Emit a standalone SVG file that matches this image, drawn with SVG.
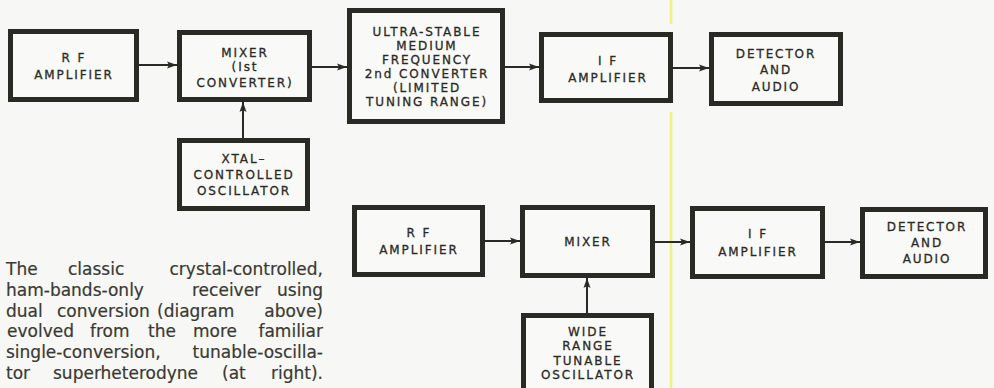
<svg xmlns="http://www.w3.org/2000/svg" width="994" height="388" viewBox="0 0 994 388">
<style>
.bg{fill:#f7f7f5}
.box{fill:#f9f9f7;stroke:#2a2a24;stroke-width:5}
.lbl{font-family:"DejaVu Sans",sans-serif;font-size:12px;letter-spacing:1.9px;fill:#2b2b26;stroke:#2b2b26;stroke-width:0.3;text-anchor:middle}
.cap{font-family:"DejaVu Sans",sans-serif;font-size:17px;fill:#3a3a34;stroke:#3a3a34;stroke-width:0.2}
.end{text-anchor:end}
.wire{stroke:#2a2a24;stroke-width:2;fill:none;marker-end:url(#ah)}
.fold{stroke:#eef27e;stroke-width:2.5;fill:none}
</style>
<defs>
<marker id="ah" markerUnits="userSpaceOnUse" markerWidth="11" markerHeight="8" refX="10" refY="4" orient="auto">
<path d="M0,0.5 L10,4 L0,7.5 L2,4 z" fill="#2a2a24"/>
</marker>
</defs>
<rect class="bg" x="0" y="0" width="994" height="388"/>
<path class="fold" d="M671,0 V24 M671,112 V388"/>

<g id="connectors">
<line class="wire" x1="139" y1="65" x2="177" y2="65"/>
<line class="wire" x1="312" y1="67" x2="347" y2="67"/>
<line class="wire" x1="505" y1="67" x2="539" y2="67"/>
<line class="wire" x1="673" y1="68" x2="709" y2="68"/>
<line class="wire" x1="243" y1="138" x2="243" y2="102"/>
<line class="wire" x1="485" y1="241" x2="520" y2="241"/>
<line class="wire" x1="655" y1="242" x2="690" y2="242"/>
<line class="wire" x1="825" y1="242" x2="860" y2="242"/>
<line class="wire" x1="587" y1="313" x2="587" y2="278"/>
</g>

<g id="rf1">
<rect class="box" x="10.5" y="31.5" width="126" height="68"/>
<text class="lbl" x="74" y="61.5">R F</text>
<text class="lbl" x="74" y="78.5">AMPLIFIER</text>
</g>
<g id="mixer1">
<rect class="box" x="179.5" y="32.5" width="130" height="67"/>
<text class="lbl" x="245" y="56.5">MIXER</text>
<text class="lbl" x="245" y="70.5">(Ist</text>
<text class="lbl" x="245" y="86.5">CONVERTER)</text>
</g>
<g id="conv2">
<rect class="box" x="349.5" y="10.5" width="153" height="111"/>
<text class="lbl" x="427" y="36">ULTRA-STABLE</text>
<text class="lbl" x="427" y="50">MEDIUM</text>
<text class="lbl" x="427" y="64">FREQUENCY</text>
<text class="lbl" x="427" y="78">2nd CONVERTER</text>
<text class="lbl" x="427" y="92">(LIMITED</text>
<text class="lbl" x="427" y="106">TUNING RANGE)</text>
</g>
<g id="if1">
<rect class="box" x="541.5" y="34.5" width="129" height="66"/>
<text class="lbl" x="608" y="64.5">I F</text>
<text class="lbl" x="608" y="81.5">AMPLIFIER</text>
</g>
<g id="det1">
<rect class="box" x="711.5" y="34.5" width="129" height="69"/>
<text class="lbl" x="776" y="57.5">DETECTOR</text>
<text class="lbl" x="776" y="73.5">AND</text>
<text class="lbl" x="776" y="90.5">AUDIO</text>
</g>
<g id="xtal">
<rect class="box" x="179.5" y="140.5" width="128" height="68"/>
<text class="lbl" x="244" y="162.5">XTAL–</text>
<text class="lbl" x="244" y="178.5">CONTROLLED</text>
<text class="lbl" x="244" y="194.5">OSCILLATOR</text>
</g>

<g id="rf2">
<rect class="box" x="354.5" y="207.5" width="128" height="67"/>
<text class="lbl" x="419" y="236.5">R F</text>
<text class="lbl" x="419" y="253.5">AMPLIFIER</text>
</g>
<g id="mixer2">
<rect class="box" x="522.5" y="207.5" width="130" height="68"/>
<text class="lbl" x="588" y="245.5">MIXER</text>
</g>
<g id="if2">
<rect class="box" x="692.5" y="208.5" width="130" height="68"/>
<text class="lbl" x="758" y="237.5">I F</text>
<text class="lbl" x="758" y="255.5">AMPLIFIER</text>
</g>
<g id="det2">
<rect class="box" x="862.5" y="209.5" width="123" height="67"/>
<text class="lbl" x="927" y="230.5">DETECTOR</text>
<text class="lbl" x="927" y="246.5">AND</text>
<text class="lbl" x="927" y="262.5">AUDIO</text>
</g>
<g id="osc">
<rect class="box" x="523.5" y="315.5" width="128" height="80"/>
<text class="lbl" x="588" y="335.5">WIDE</text>
<text class="lbl" x="588" y="350">RANGE</text>
<text class="lbl" x="588" y="364.5">TUNABLE</text>
<text class="lbl" x="588" y="379">OSCILLATOR</text>
</g>

<g id="caption" class="cap">
<text y="275"><tspan x="6">The</tspan><tspan x="68">classic</tspan><tspan class="end" x="323">crystal-controlled,</tspan></text>
<text y="296"><tspan x="6">ham-bands-only</tspan><tspan x="192">receiver</tspan><tspan class="end" x="323">using</tspan></text>
<text y="316.5"><tspan x="6">dual</tspan><tspan x="57">conversion</tspan><tspan x="157">(diagram</tspan><tspan class="end" x="323">above)</tspan></text>
<text y="337"><tspan x="7">evolved</tspan><tspan x="90">from</tspan><tspan x="148">the</tspan><tspan x="193">more</tspan><tspan class="end" x="323">familiar</tspan></text>
<text y="358"><tspan x="6">single-conversion,</tspan><tspan class="end" x="323">tunable-oscilla-</tspan></text>
<text y="378.5"><tspan x="6">tor</tspan><tspan x="53">superheterodyne</tspan><tspan x="222">(at</tspan><tspan class="end" x="323">right).</tspan></text>
</g>
</svg>
